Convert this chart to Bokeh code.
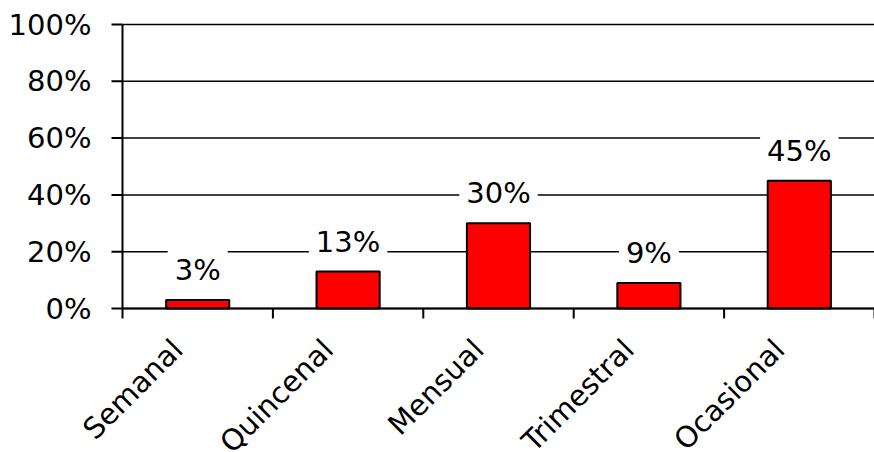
from bokeh.plotting import figure
from bokeh.models import ColumnDataSource, Range1d
from bokeh.core.properties import value
from bokeh.embed import file_html
from bokeh.resources import INLINE

categories = ["Semanal", "Quincenal", "Mensual", "Trimestral", "Ocasional"]
shares = [3, 13, 30, 9, 45]
y_ticks = [0, 20, 40, 60, 80, 100]
y_tick_labels = ["0%", "20%", "40%", "60%", "80%", "100%"]

FONT = "DejaVu Sans"
FS = "29px"

W, H = 874, 452
LEFT, TOP, BASE = 122, 24, 308    # pixel edges of the plotting area
N = len(categories)
XPX = (W - LEFT) / N              # pixels per category
YPX = (BASE - TOP) / 100          # pixels per percentage point

centers = [i + 0.5 for i in range(N)]
bars = ColumnDataSource(dict(
    x=centers,
    top=shares,
    cat=categories,
    label=[f"{v}%" for v in shares],
))
ticks = ColumnDataSource(dict(y=y_ticks, label=y_tick_labels))
bounds = ColumnDataSource(dict(x=list(range(N + 1))))

# the frame fills the whole canvas so the rotated names are not clipped;
# the axes are drawn with glyphs on the same scales
p = figure(width=W, height=H, output_backend="svg", toolbar_location=None,
           x_range=Range1d(-LEFT / XPX, N),
           y_range=Range1d(-(H - BASE) / YPX, 100 + TOP / YPX),
           x_axis_location=None, y_axis_location=None,
           min_border=0)
p.min_border_left = p.min_border_right = p.min_border_top = p.min_border_bottom = 0
p.grid.visible = False
p.outline_line_color = None
p.background_fill_color = "white"
p.border_fill_color = "white"

# horizontal gridlines with their tick marks
p.segment(x0=0, x1=N, y0="y", y1="y", source=ticks, line_color="black", line_width=1.5)
p.segment(x0=-11 / XPX, x1=0, y0="y", y1="y", source=ticks, line_color="black", line_width=2)
p.text(x=0, y="y", text="label", source=ticks, x_offset=-31,
       text_align="right", text_baseline="middle",
       text_font=value(FONT), text_font_size=FS, text_color="black")

# bars
p.vbar(x="x", top="top", width=0.42, source=bars,
       fill_color="#ff0000", line_color="black", line_width=2)

# axis lines and category boundary ticks
p.segment(x0=0, x1=0, y0=0, y1=100, line_color="black", line_width=2)
p.segment(x0=0, x1=N, y0=0, y1=0, line_color="black", line_width=2)
p.segment(x0="x", x1="x", y0=0, y1=-10 / YPX, source=bounds,
          line_color="black", line_width=2)

# value labels on white boxes that break the gridlines
p.text(x="x", y="top", text="label", source=bars,
       text_align="center", text_baseline="bottom", y_offset=-6,
       text_font=value(FONT), text_font_size=FS, text_color="black",
       background_fill_color="white", padding=7)

# rotated category names ending just left of each bar centre
p.text(x="x", y=0, text="cat", source=bars,
       angle=0.785398, text_align="right", text_baseline="top",
       x_offset=-32, y_offset=24,
       text_font=value(FONT), text_font_size=FS, text_color="black")

open("out.html", "w").write(file_html(p, INLINE))
